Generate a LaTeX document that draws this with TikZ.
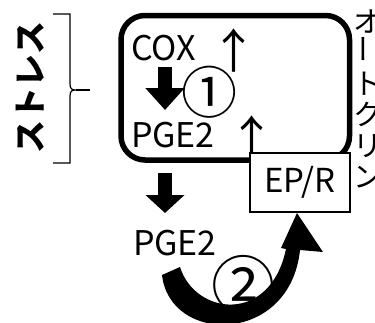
\documentclass[tikz,border=0pt]{standalone}
\usepackage{fontspec}
\usepackage{graphicx}
\usetikzlibrary{calc,arrows.meta}
\newfontfamily\jp{Noto Sans CJK JP}
\newcommand{\bigup}{\raisebox{-8pt}{\fontsize{47}{47}\selectfont ↑}}
\tikzset{
  every node/.style={inner sep=0pt, outer sep=0pt},
  lbl/.style={font=\jp\fontsize{34}{34}\selectfont},
  blockarrowa/.style={line width=14pt, -{Triangle[length=22pt,width=38pt]}},
  blockarrowb/.style={line width=14pt, -{Triangle[length=18pt,width=38pt]}},
  thinline/.style={line width=1.2pt},
}
\begin{document}
\begin{tikzpicture}[x=1pt,y=-1pt]
\useasboundingbox (0,0) rectangle (375,322);
\fill[white] (0,0) rectangle (375,322);

% left label and bracket
\node[font=\jp\bfseries\fontsize{33}{33}\selectfont, rotate=90] (stress) at (30,87) {ストレス};
\draw[thinline] (53,14) -- (70,14) -- (70,84) .. controls (70,89) and (72,90) .. (76,90)
      .. controls (72,90) and (70,91) .. (70,96) -- (70,163) -- (53,163);
\draw[thinline] (76,90) -- (90,90);

% cell frame
\node[draw, line width=5.5pt, rounded corners=24pt, minimum width=228.5pt, minimum height=144.5pt] (cell) at (235.25,87.75) {};

\node[lbl, anchor=base west] (cox) at (131,60) {COX\hspace{15pt}\bigup};
\node[font=\jp\fontsize{56}{56}\selectfont] (one) at (209,92) {①};
\node[lbl, anchor=base west] (pgea) at (131,147) {PGE2\hspace{14pt}\bigup};
\node[draw, fill=white, line width=2.3pt, minimum width=100pt, minimum height=59pt, font=\jp\fontsize{33}{33}\selectfont] (epr) at (300,182.5) {EP/R};
\node[lbl, anchor=base west] (pgeb) at (133,255) {PGE2};

% right vertical label (cut at the edge, as in the source)
\node[font=\jp\fontsize{29}{31}\selectfont, align=center, anchor=north] (side) at (368,10) {オ\\\rotatebox{90}{ー}\\ト\\ク\\リ\\ン};

% block arrows
\draw[blockarrowa] ($(cox.base west)+(34,7)$) -- ($(pgea.base west)+(34,-37)$);
\draw[blockarrowb] ($(pgea.base west)+(34,26)$) -- ($(pgeb.base west)+(32,-42)$);

% curved arrow from PGE2 to EP/R
\coordinate (s1) at ($(pgeb.base west)+(29,20)$);
\coordinate (s2) at ($(pgeb.base west)+(47,12)$);
\coordinate (tip) at ($(epr.south)+(-3,1)$);
\coordinate (hl) at ($(epr.south)+(-19,36)$);
\coordinate (hr) at ($(epr.south)+(23,40)$);
\coordinate (si) at ($(epr.south)+(-14,37)$);
\coordinate (so) at ($(epr.south)+(0,38)$);
\fill (s2) .. controls (195,315) and (270,325) .. (si) -- (hl) -- (tip) -- (hr) -- (so)
      .. controls (290,345) and (170,345) .. (s1) -- cycle;
\node[font=\jp\fontsize{64}{64}\selectfont] (two) at (243,285) {②};
\end{tikzpicture}
\end{document}
